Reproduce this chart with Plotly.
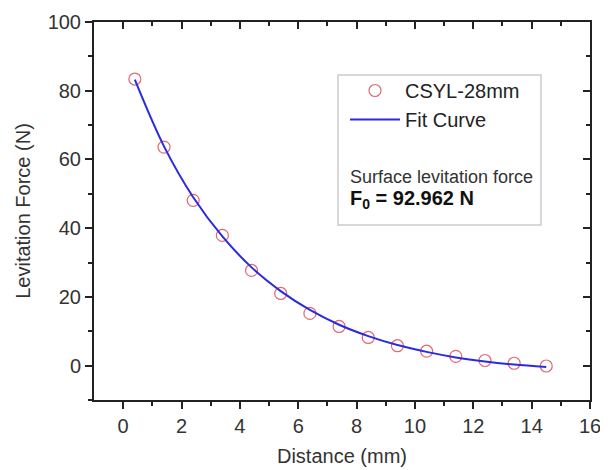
import plotly.graph_objects as go

distance = [0.4, 1.4, 2.4, 3.4, 4.4, 5.4, 6.4, 7.4, 8.4, 9.4, 10.4, 11.4, 12.4, 13.4, 14.5]
force = [83.4, 63.6, 48.1, 37.9, 27.7, 21.0, 15.2, 11.4, 8.2, 5.8, 4.2, 2.7, 1.5, 0.7, -0.1]
fit_x = [0.4, 1.4, 2.4, 3.4, 4.4, 5.4, 6.4, 7.4, 8.4, 9.4, 10.4, 11.4, 12.4, 13.4, 14.5]
fit_y = [83.2, 63.8, 49.0, 37.6, 28.6, 21.7, 16.2, 11.9, 8.6, 6.0, 4.0, 2.4, 1.2, 0.3, -0.4]

x_ticks = [0, 2, 4, 6, 8, 10, 12, 14, 16]
x_minor = [1, 3, 5, 7, 9, 11, 13, 15]
y_ticks = [0, 20, 40, 60, 80, 100]
y_minor = [-10, 10, 30, 50, 70, 90]

font_family = "Liberation Sans, Arial, sans-serif"
tick_color = "#333333"

# page body has an 8px margin; figure placed accordingly
OFF = 8
W, H = 608 - OFF, 470 - OFF
L, R, T, B = 94 - OFF, 18, 22 - OFF, 70
PW = W - L - R
PH = H - T - B


def px_x(p):
    return (p - OFF - L) / PW


def px_y(p):
    return (H - B - (p - OFF)) / PH


fig = go.Figure()
fig.add_trace(go.Scatter(
    x=distance, y=force, mode="markers", name="CSYL-28mm", legendgroup="a",
    marker=dict(symbol="circle-open", size=12, color="#e06a72", line=dict(width=1.2)),
))
fig.add_trace(go.Scatter(
    x=fit_x, y=fit_y, mode="lines", name="Fit Curve", line_shape="spline", legendgroup="b",
    line=dict(color="#2a2ae0", width=2),
))
fig.add_trace(go.Scatter(x=[0], y=[0], xaxis="x2", yaxis="y2", showlegend=False,
                         mode="markers", marker=dict(opacity=0), hoverinfo="skip"))

axis_common = dict(showgrid=False, zeroline=False, showline=True, linecolor="#222222",
                   linewidth=2, tickcolor="#222222", automargin=False,
                   tickfont=dict(family=font_family, size=20, color=tick_color))

fig.update_layout(
    width=W, height=H,
    margin=dict(l=L, r=R, t=T, b=B, autoexpand=False),
    paper_bgcolor="white", plot_bgcolor="white",
    font=dict(family=font_family, color=tick_color),
    xaxis=dict(range=[-1, 16], tickvals=x_ticks, ticks="outside",
               ticklen=7, tickwidth=1.5,
               minor=dict(tickvals=x_minor, ticks="outside", ticklen=4,
                          tickwidth=1.5, tickcolor="#222222"),
               title=dict(text="Distance (mm)", font=dict(family=font_family, size=20, color=tick_color),
                          standoff=13),
               **axis_common),
    yaxis=dict(range=[-10, 100], tickvals=y_ticks, ticks="outside",
               ticklen=7, tickwidth=1.5,
               minor=dict(tickvals=y_minor, ticks="outside", ticklen=4,
                          tickwidth=1.5, tickcolor="#222222"),
               title=dict(text="Levitation Force (N)", font=dict(family=font_family, size=20, color=tick_color),
                          standoff=12),
               **axis_common),
    xaxis2=dict(overlaying="x", side="top", range=[-1, 16], tickvals=x_ticks,
                ticks="inside", ticklen=7, tickwidth=1.5, showticklabels=False,
                minor=dict(tickvals=x_minor, ticks="inside", ticklen=4,
                           tickwidth=1.5, tickcolor="#222222"),
                **axis_common),
    yaxis2=dict(overlaying="y", side="right", range=[-10, 100], tickvals=y_ticks,
                ticks="inside", ticklen=7, tickwidth=1.5, showticklabels=False,
                minor=dict(tickvals=y_minor, ticks="inside", ticklen=4,
                           tickwidth=1.5, tickcolor="#222222"),
                **axis_common),
    legend=dict(x=px_x(345), y=px_y(71), xanchor="left", yanchor="top", bgcolor="rgba(0,0,0,0)",
                font=dict(family=font_family, size=20, color="#222222"),
                itemwidth=50, tracegroupgap=0, traceorder="grouped"),
    showlegend=True,
)

# legend frame and extra text
fig.add_shape(type="rect", xref="paper", yref="paper",
              x0=px_x(338), x1=px_x(541), y0=px_y(225), y1=px_y(75),
              line=dict(color="#cccccc", width=1.5), fillcolor="rgba(0,0,0,0)", layer="below")
fig.add_annotation(xref="paper", yref="paper", x=px_x(348), y=px_y(177),
                   xanchor="left", yanchor="middle", showarrow=False,
                   text="Surface levitation force",
                   font=dict(family=font_family, size=18, color="#333333"))
fig.add_annotation(xref="paper", yref="paper", x=px_x(348), y=px_y(199),
                   xanchor="left", yanchor="middle", showarrow=False,
                   text="<b>F<sub>0</sub> = 92.962 N</b>",
                   font=dict(family=font_family, size=20, color="#111111"))

fig.write_html("out.html")
